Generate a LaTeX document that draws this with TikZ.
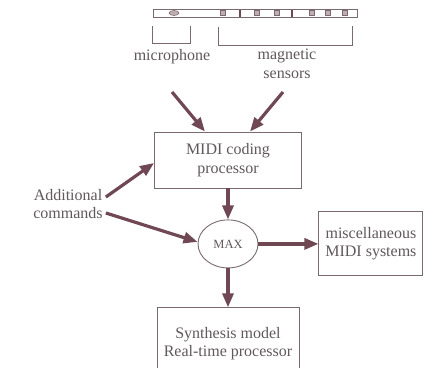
\documentclass[tikz,border=0pt]{standalone}
\usepackage{fontspec}
\setmainfont{Liberation Serif}
\usepackage{tikz}
\usetikzlibrary{arrows.meta, positioning, shapes.geometric}
\definecolor{ink}{RGB}{112,72,84}
\definecolor{rule}{RGB}{122,106,112}
\definecolor{txt}{RGB}{96,88,92}

\begin{document}
\begin{tikzpicture}[x=1pt, y=-1pt,
      every node/.style={font=\fontsize{16}{18.5}\selectfont, text=txt},
      box/.style={draw=rule, line width=0.9pt, align=center, inner sep=2pt},
      ar/.style={-{Triangle[length=14pt, width=11pt]}, draw=ink, fill=ink, line width=3.2pt}]
    \useasboundingbox (0,0) rectangle (433,367);
    % flute with keys
    \draw[rule, line width=0.8pt] (153,9) rectangle (357,17);
    \draw[rule, fill=ink!45, line width=0.6pt] (174,13) ellipse (5pt and 2.5pt);
    \foreach \x in {223,257,277,312,328,345}
      \draw[rule, fill=ink!45, line width=0.6pt] (\x-2.5,10.5) rectangle (\x+2.5,15.5);
    \foreach \x in {240,292}
      \draw[ink, line width=1.4pt] (\x,9.5) -- (\x,16.5);
    % brackets
    \draw[rule, line width=0.8pt] (152,26) -- (152,43) -- (190,43) -- (190,26);
    \draw[rule, line width=0.8pt] (218,27) -- (218,45) -- (352,45) -- (352,26);
    \node (mic) at (172,57) {microphone};
    \node[align=center] (mag) at (287,64) {magnetic\\sensors};
    \coordinate (micend) at (172,92);
    \coordinate (magend) at (283,92);
    % blocks
    \node[box, minimum width=147pt, minimum height=56pt] (midi) at (228,160) {MIDI coding\\processor};
    \node[ellipse, draw=rule, line width=0.9pt, minimum width=60pt, minimum height=48pt, inner sep=0pt,
          font=\fontsize{12.5}{14}\selectfont, below=31pt of midi] (max) {MAX};
    \node[box, minimum width=104pt, minimum height=64pt, right=60pt of max] (misc) {miscellaneous\\MIDI systems};
    \node[box, minimum width=142pt, minimum height=72pt, below=39pt of max] (synth) {Synthesis model\\Real-time processor};
    \node[align=center, inner sep=0pt] (add) at (68,204) {Additional\\commands};
    % connections
    \draw[ar] (micend) -- ([xshift=-23pt]midi.north);
    \draw[ar] (magend) -- ([xshift=22pt]midi.north);
    \draw[ar] ([xshift=3pt, yshift=7pt]add.east) -- ([yshift=-3pt]midi.west);
    \draw[ar] ([xshift=3pt, yshift=-9pt]add.east) -- ([yshift=2pt]max.west);
    \draw[ar] (midi.south) -- (max.north);
    \draw[ar] (max.east) -- (misc.west);
    \draw[ar] (max.south) -- (synth.north);
\end{tikzpicture}
\end{document}
